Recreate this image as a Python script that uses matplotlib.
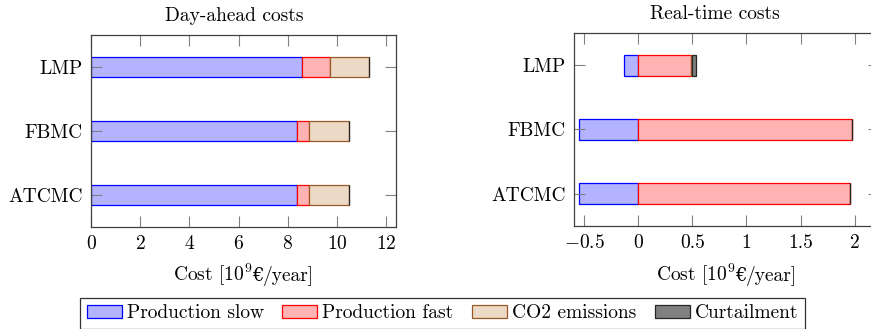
import matplotlib
matplotlib.use("Agg")
import matplotlib.pyplot as plt
from matplotlib.offsetbox import TextArea, HPacker, AnchoredOffsetbox
import numpy as np

# cases, bottom to top
cases = ['ATCMC', 'FBMC', 'LMP']
series = ['Production slow', 'Production fast', 'CO2 emissions', 'Curtailment']

# day-ahead costs [1e9 EUR/year]
da_slow = [8.37, 8.38, 8.57]
da_fast = [0.51, 0.47, 1.13]
da_co2 = [1.62, 1.63, 1.61]
da_curt = [0.0, 0.0, 0.0]

# real-time costs [1e9 EUR/year]
rt_slow = [-0.545, -0.55, -0.133]
rt_fast = [1.955, 1.972, 0.49]
rt_co2 = [0.004, 0.003, 0.005]
rt_curt = [0.0, 0.0, 0.04]

fills = [(0.7, 0.7, 1.0), (1.0, 0.7, 0.7), (0.925, 0.85, 0.775), (0.5, 0.5, 0.5)]
edges = [(0, 0, 1), (1, 0, 0), (0.6, 0.35, 0.15), (0.15, 0.15, 0.15)]

plt.rcParams['font.family'] = ['cmr10', 'DejaVu Serif']
plt.rcParams['mathtext.fontset'] = 'cm'
plt.rcParams['axes.formatter.use_mathtext'] = True
plt.rcParams['axes.unicode_minus'] = True
plt.rcParams['font.size'] = 14


def cost_label(ax, y):
    # euro sign is missing in cmr10, so build the label from pieces
    parts = [TextArea('Cost [10$^9$', textprops=dict(family='cmr10', size=14)),
             TextArea('€', textprops=dict(family='DejaVu Serif', size=13)),
             TextArea('/year]', textprops=dict(family='cmr10', size=14))]
    box = HPacker(children=parts, align='baseline', pad=0, sep=0)
    anc = AnchoredOffsetbox(loc='center', child=box, pad=0, frameon=False,
                            bbox_to_anchor=(0.5, y), bbox_transform=ax.transAxes,
                            borderpad=0)
    ax.add_artist(anc)


def stacked(ax, data):
    y = np.arange(len(cases))
    pos = np.zeros(len(cases))
    neg = np.zeros(len(cases))
    handles = []
    for vals, fc, ec, name in zip(data, fills, edges, series):
        vals = np.array(vals)
        left = np.where(vals >= 0, pos, neg)
        h = ax.barh(y, vals, left=left, height=0.32, color=fc, edgecolor=ec,
                    linewidth=0.9, label=name)
        handles.append(h)
        pos = pos + np.where(vals >= 0, vals, 0)
        neg = neg + np.where(vals < 0, vals, 0)
    ax.set_yticks(y)
    ax.set_yticklabels(cases)
    ax.set_ylim(-0.5, 2.5)
    ax.tick_params(direction='in', length=8, width=0.8, color='0.5',
                   top=True, right=True, pad=6)
    for s in ax.spines.values():
        s.set_linewidth(0.9)
        s.set_color('0.25')
    return handles


fig = plt.figure(figsize=(8.71, 3.29), dpi=100)
ax1 = fig.add_axes([0.1045, 0.31, 0.3502, 0.5836])
ax2 = fig.add_axes([0.659, 0.314, 0.3502, 0.5848])

handles = stacked(ax1, [da_slow, da_fast, da_co2, da_curt])
stacked(ax2, [rt_slow, rt_fast, rt_co2, rt_curt])

ax1.set_xlim(0, 12.4)
ax1.set_xticks([0, 2, 4, 6, 8, 10, 12])
ax2.set_xlim(-0.593, 2.225)
ax2.set_xticks([-0.5, 0, 0.5, 1, 1.5, 2])
ax2.set_xticklabels(['$-0.5$', '0', '0.5', '1', '1.5', '2'])

cost_label(ax1, -0.25)
cost_label(ax2, -0.256)

ax1.set_title('Day-ahead costs', x=0.47, pad=10, fontsize=14)
ax2.set_title('Real-time costs', x=0.462, pad=10, fontsize=14)

leg = fig.legend(handles=handles, loc='upper center', bbox_to_anchor=(0.508, 0.095),
                 ncol=4, frameon=True, fancybox=False, edgecolor='black',
                 handlelength=1.8, handleheight=0.65, columnspacing=0.95,
                 handletextpad=0.25, borderpad=0.35, borderaxespad=0)
leg.get_frame().set_linewidth(0.9)

fig.savefig('out.png', dpi=100)
